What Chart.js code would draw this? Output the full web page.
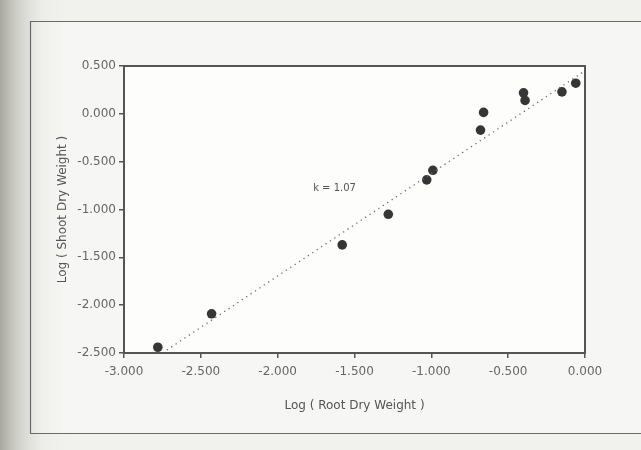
<!DOCTYPE html>
<html>
<head>
<meta charset="utf-8">
<script src="https://cdn.jsdelivr.net/npm/chart.js@4"></script>
<style>
  html, body { margin: 0; padding: 0; background: #f2f2ef; }
  #wrap { width: 641px; height: 450px; }
</style>
</head>
<body>
<div id="wrap"><canvas id="c" width="641" height="450"></canvas></div>
<script>
// Data
const rootLog  = [-2.78, -2.43, -1.58, -1.28, -1.03, -0.99, -0.68, -0.66, -0.40, -0.39, -0.15, -0.06];
const shootLog = [-2.44, -2.09, -1.37, -1.05, -0.69, -0.59, -0.17, 0.015, 0.22, 0.14, 0.23, 0.32];
// Fitted line (k = 1.07) endpoints as drawn
const fitX = [-2.75, 0.0];
const fitY = [-2.50, 0.45];
const xTickValues = [-3, -2.5, -2, -1.5, -1, -0.5, 0];
const xTickLabels = ['-3.000', '-2.500', '-2.000', '-1.500', '-1.000', '-0.500', '0.000'];
const yTickValues = [-2.5, -2, -1.5, -1, -0.5, 0, 0.5];
const yTickLabels = ['-2.500', '-2.000', '-1.500', '-1.000', '-0.500', '0.000', '0.500'];
const annotationText = 'k = 1.07';
const annotationPos = { x: -1.63, y: -0.78 };
const xTitle = 'Log ( Root Dry Weight )';
const yTitle = 'Log ( Shoot Dry Weight )';

const FONT = "'DejaVu Sans', sans-serif";
const INK = '#555555';

const backdrop = {
  id: 'backdrop',
  beforeDraw(chart) {
    const ctx = chart.ctx, W = chart.width, H = chart.height;
    ctx.save();
    ctx.fillStyle = '#f1f1ee';
    ctx.fillRect(0, 0, W, H);
    // inner sheet
    ctx.fillStyle = '#f6f6f4';
    ctx.fillRect(30, 21, W - 30, 412);
    // scan shadow on the left
    const g = ctx.createLinearGradient(0, 0, 70, 0);
    g.addColorStop(0, 'rgba(160,160,150,0.9)');
    g.addColorStop(0.3, 'rgba(195,195,186,0.6)');
    g.addColorStop(0.6, 'rgba(225,225,218,0.3)');
    g.addColorStop(1, 'rgba(240,240,236,0)');
    ctx.fillStyle = g;
    ctx.fillRect(0, 0, 70, H);
    // outer frame
    ctx.strokeStyle = '#6a6a6a';
    ctx.lineWidth = 1.2;
    ctx.beginPath();
    ctx.moveTo(W, 21.5); ctx.lineTo(30.5, 21.5); ctx.lineTo(30.5, 433.5); ctx.lineTo(W, 433.5);
    ctx.stroke();
    // plot area
    const a = chart.chartArea;
    ctx.fillStyle = '#fdfdfc';
    ctx.fillRect(a.left, a.top, a.right - a.left, a.bottom - a.top);
    ctx.restore();
  },
  afterDraw(chart) {
    const ctx = chart.ctx, a = chart.chartArea;
    ctx.save();
    ctx.strokeStyle = INK;
    ctx.lineWidth = 2;
    ctx.strokeRect(a.left, a.top, a.right - a.left, a.bottom - a.top);
    const xs = chart.scales.x, ys = chart.scales.y;
    ctx.fillStyle = INK;
    ctx.font = '10px ' + FONT;
    ctx.textAlign = 'center';
    ctx.textBaseline = 'middle';
    ctx.fillText(annotationText, xs.getPixelForValue(annotationPos.x), ys.getPixelForValue(annotationPos.y));
    ctx.restore();
  }
};

new Chart(document.getElementById('c'), {
  type: 'scatter',
  data: {
    datasets: [
      {
        label: 'fit',
        type: 'line',
        data: fitX.map((x, i) => ({ x, y: fitY[i] })),
        borderColor: '#6e6e6e',
        borderWidth: 1.3,
        borderDash: [1.3, 4],
        pointRadius: 0,
        fill: false
      },
      {
        label: 'data',
        data: rootLog.map((x, i) => ({ x, y: shootLog[i] })),
        backgroundColor: '#363636',
        borderColor: '#363636',
        pointRadius: 4.8,
        pointBorderWidth: 0
      }
    ]
  },
  options: {
    responsive: false,
    animation: false,
    devicePixelRatio: 1,
    layout: { padding: { top: 66, right: 56, left: 0, bottom: 0 } },
    plugins: { legend: { display: false }, tooltip: { enabled: false } },
    scales: {
      x: {
        type: 'linear', min: -3, max: 0,
        afterBuildTicks: s => { s.ticks = xTickValues.map(v => ({ value: v })); },
        afterFit: s => { s.height = 97; },
        grid: { display: true, drawOnChartArea: false, drawTicks: true, tickLength: 5, color: INK, lineWidth: 1.5 },
        border: { display: true, color: INK, width: 2 },
        ticks: {
          padding: 7, color: '#666', font: { family: FONT, size: 12 },
          maxRotation: 0,
          callback: (v) => { const i = xTickValues.indexOf(v); return i >= 0 ? xTickLabels[i] : ''; }
        },
        title: { display: true, text: xTitle, color: INK, font: { family: FONT, size: 12 }, padding: { top: 0, bottom: 37 } }
      },
      y: {
        type: 'linear', min: -2.5, max: 0.5,
        afterBuildTicks: s => { s.ticks = yTickValues.map(v => ({ value: v })); },
        afterFit: s => { s.width = 124; },
        grid: { display: true, drawOnChartArea: false, drawTicks: true, tickLength: 5, color: INK, lineWidth: 1.5 },
        border: { display: true, color: INK, width: 2 },
        ticks: {
          padding: 3, color: '#666', font: { family: FONT, size: 12 },
          callback: (v) => { const i = yTickValues.indexOf(v); return i >= 0 ? yTickLabels[i] : ''; }
        },
        title: { display: true, text: yTitle, color: INK, font: { family: FONT, size: 12 }, padding: { top: 56, bottom: 0 } }
      }
    }
  },
  plugins: [backdrop]
});
</script>
</body>
</html>
